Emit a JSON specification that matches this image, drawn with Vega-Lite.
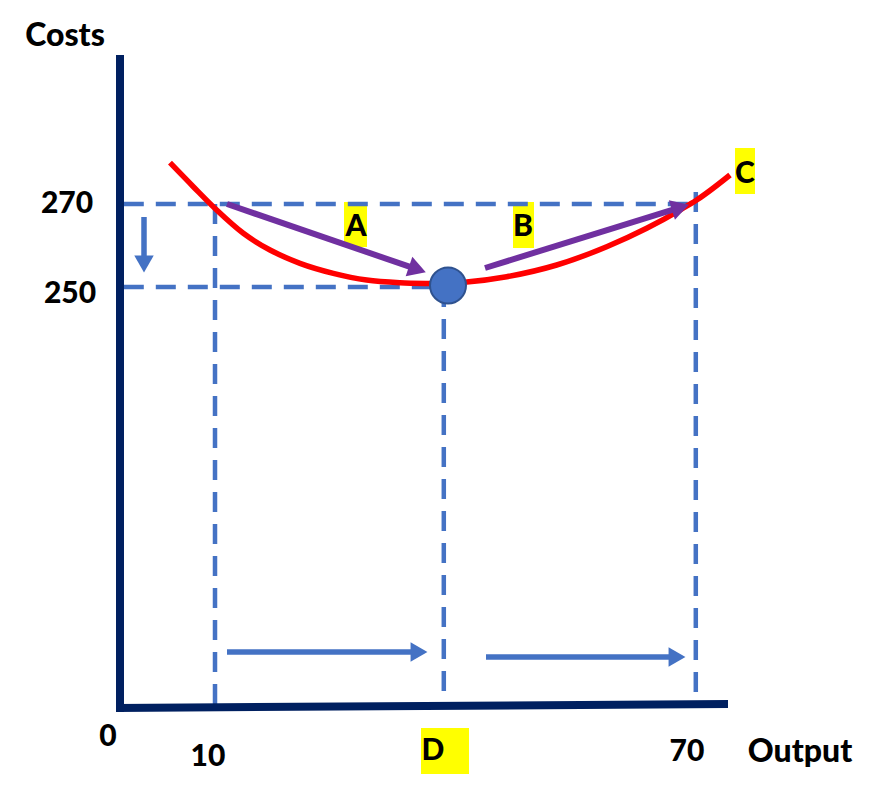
{
  "$schema": "https://vega.github.io/schema/vega-lite/v6.json",
  "width": 877,
  "height": 802,
  "autosize": {"type": "fit", "contains": "padding"},
  "padding": 0,
  "background": "white",
  "config": {"view": {"stroke": null}},
  "datasets": {
    "boxes": [
      {"x": 35.75, "x2": 41.75, "y": 143.74, "y2": 132.65},
      {"x": 26.125, "x2": 29.0, "y": 270.48, "y2": 259.64},
      {"x": 47.25, "x2": 49.875, "y": 270.48, "y2": 259.4},
      {"x": 75.0, "x2": 77.5, "y": 283.49, "y2": 272.41}
    ],
    "guides": [
      {"x": -1.4, "x2": 70.1, "y": 270, "y2": 270},
      {"x": -1.4, "x2": 37.5, "y": 250, "y2": 250},
      {"x": 10, "x2": 10, "y": 270, "y2": 148.5},
      {"x": 38.6, "x2": 38.6, "y": 250, "y2": 148.5},
      {"x": 70.1, "x2": 70.1, "y": 272.9, "y2": 150.0}
    ],
    "axes": [
      {"x": -1.875, "x2": -1.875, "y": 305.9, "y2": 147.6},
      {"x": -2.375, "x2": 74.125, "y": 148.55, "y2": 149.52}
    ],
    "curve": [
      {"output": 4.375, "cost": 279.95},
      {"output": 7.29, "cost": 274.17},
      {"output": 10.21, "cost": 268.55},
      {"output": 13.54, "cost": 262.94},
      {"output": 16.875, "cost": 258.92},
      {"output": 20.625, "cost": 255.71},
      {"output": 24.79, "cost": 253.3},
      {"output": 28.96, "cost": 251.69},
      {"output": 33.125, "cost": 251.04},
      {"output": 36.46, "cost": 250.86},
      {"output": 38.5, "cost": 250.82},
      {"output": 41.46, "cost": 251.2},
      {"output": 46.46, "cost": 252.48},
      {"output": 52.71, "cost": 255.3},
      {"output": 58.96, "cost": 259.71},
      {"output": 63.96, "cost": 264.15},
      {"output": 68.125, "cost": 268.55},
      {"output": 70.21, "cost": 270.96},
      {"output": 74.375, "cost": 276.99}
    ],
    "purple": [
      {"x": 11.5, "y": 270.0, "x2": 35.3, "y2": 254.24, "angle": 108.95},
      {"x": 43.75, "y": 254.58, "x2": 68.17, "y2": 269.19, "angle": 72.76}
    ],
    "blue": [
      {"x": 1.125, "y": 266.87, "x2": 1.125, "y2": 255.54, "angle": 180},
      {"x": 11.5, "y": 162.05, "x2": 35.5, "y2": 162.05, "angle": 90},
      {"x": 43.875, "y": 160.84, "x2": 67.75, "y2": 160.84, "angle": 90}
    ],
    "point": [{"x": 39.125, "y": 250.36}],
    "numbers": [
      {"label": "270", "x": -8.5, "y": 270.0},
      {"label": "250", "x": -8.125, "y": 248.3},
      {"label": "0", "x": -3.375, "y": 141.57},
      {"label": "10", "x": 9.125, "y": 136.75},
      {"label": "D", "x": 37.25, "y": 138.19},
      {"label": "70", "x": 69.0, "y": 137.95},
      {"label": "A", "x": 27.625, "y": 264.46},
      {"label": "B", "x": 48.5, "y": 264.46},
      {"label": "C", "x": 76.25, "y": 277.23}
    ],
    "words": [
      {"label": "Costs", "x": -8.75, "y": 310.48},
      {"label": "Output", "x": 83.125, "y": 137.95}
    ]
  },
  "layer": [
    {
      "data": {"name": "boxes"},
      "mark": {"type": "rect", "color": "#FFFF00"},
      "encoding": {
        "x": {"field": "x", "type": "quantitative", "scale": {"domain": [-16.875, 92.75], "nice": false, "zero": false}, "axis": null},
        "x2": {"field": "x2"},
        "y": {"field": "y", "type": "quantitative", "scale": {"domain": [125.904, 319.157], "nice": false, "zero": false}, "axis": null},
        "y2": {"field": "y2"}
      }
    },
    {
      "data": {"name": "guides"},
      "mark": {"type": "rule", "color": "#4472C4", "strokeWidth": 4.5, "strokeDash": [20, 12]},
      "encoding": {
        "x": {"field": "x", "type": "quantitative"},
        "x2": {"field": "x2"},
        "y": {"field": "y", "type": "quantitative"},
        "y2": {"field": "y2"}
      }
    },
    {
      "data": {"name": "axes"},
      "mark": {"type": "rule", "color": "#002060", "strokeWidth": 8},
      "encoding": {
        "x": {"field": "x", "type": "quantitative"},
        "x2": {"field": "x2"},
        "y": {"field": "y", "type": "quantitative"},
        "y2": {"field": "y2"}
      }
    },
    {
      "data": {"name": "curve"},
      "mark": {"type": "line", "color": "#FF0000", "strokeWidth": 5.5, "interpolate": "monotone"},
      "encoding": {
        "x": {"field": "output", "type": "quantitative"},
        "y": {"field": "cost", "type": "quantitative"}
      }
    },
    {
      "data": {"name": "purple"},
      "mark": {"type": "rule", "color": "#7030A0", "strokeWidth": 6},
      "encoding": {
        "x": {"field": "x", "type": "quantitative"},
        "x2": {"field": "x2"},
        "y": {"field": "y", "type": "quantitative"},
        "y2": {"field": "y2"}
      }
    },
    {
      "data": {"name": "purple"},
      "mark": {"type": "point", "shape": "triangle-up", "filled": true, "opacity": 1, "color": "#7030A0", "size": 420},
      "encoding": {
        "x": {"field": "x2", "type": "quantitative"},
        "y": {"field": "y2", "type": "quantitative"},
        "angle": {"field": "angle", "type": "quantitative", "scale": null}
      }
    },
    {
      "data": {"name": "blue"},
      "mark": {"type": "rule", "color": "#4472C4", "strokeWidth": 5.5},
      "encoding": {
        "x": {"field": "x", "type": "quantitative"},
        "x2": {"field": "x2"},
        "y": {"field": "y", "type": "quantitative"},
        "y2": {"field": "y2"}
      }
    },
    {
      "data": {"name": "blue"},
      "mark": {"type": "point", "shape": "triangle-up", "filled": true, "opacity": 1, "color": "#4472C4", "size": 380},
      "encoding": {
        "x": {"field": "x2", "type": "quantitative"},
        "y": {"field": "y2", "type": "quantitative"},
        "angle": {"field": "angle", "type": "quantitative", "scale": null}
      }
    },
    {
      "data": {"name": "point"},
      "mark": {"type": "point", "shape": "circle", "filled": true, "opacity": 1, "fill": "#4472C4", "stroke": "#2F528F", "strokeWidth": 2, "size": 1296},
      "encoding": {
        "x": {"field": "x", "type": "quantitative"},
        "y": {"field": "y", "type": "quantitative"}
      }
    },
    {
      "data": {"name": "numbers"},
      "mark": {"type": "text", "font": "Lato", "fontWeight": 900, "fontSize": 30, "color": "#000000", "align": "center", "baseline": "middle"},
      "encoding": {
        "x": {"field": "x", "type": "quantitative"},
        "y": {"field": "y", "type": "quantitative"},
        "text": {"field": "label"}
      }
    },
    {
      "data": {"name": "words"},
      "mark": {"type": "text", "font": "Lato", "fontWeight": 900, "fontSize": 32, "color": "#000000", "align": "center", "baseline": "middle"},
      "encoding": {
        "x": {"field": "x", "type": "quantitative"},
        "y": {"field": "y", "type": "quantitative"},
        "text": {"field": "label"}
      }
    }
  ]
}
